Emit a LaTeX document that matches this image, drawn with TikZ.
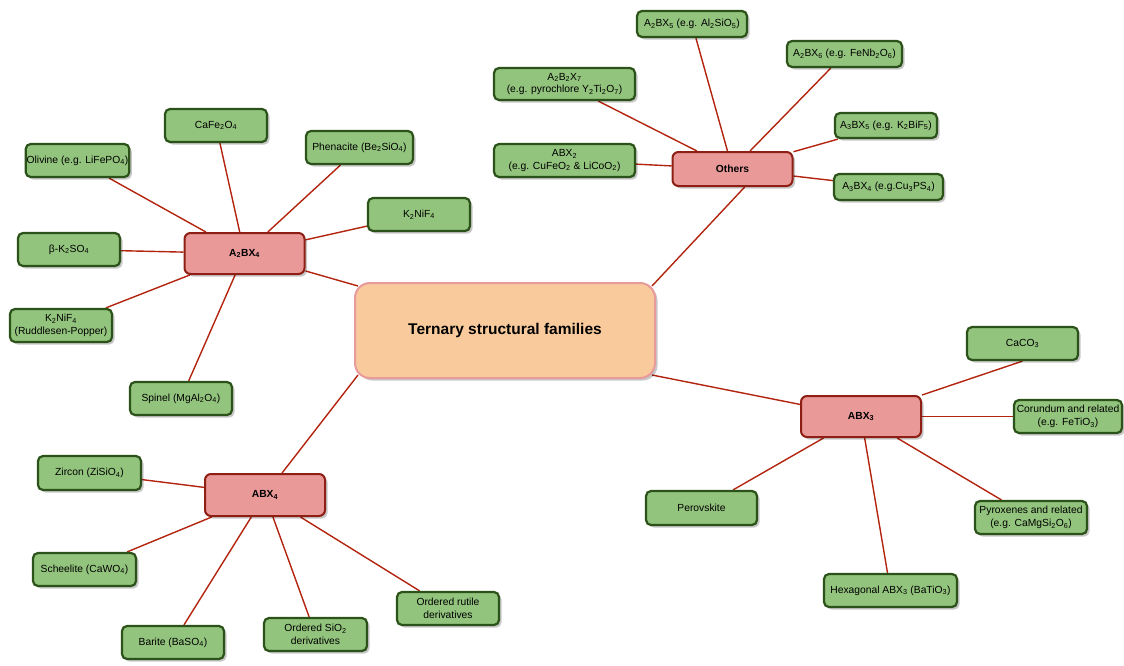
\documentclass[tikz,border=0pt]{standalone}
\usepackage{fontspec}
\setmainfont{Liberation Sans}
\usetikzlibrary{calc,shadows}
\newcommand{\sbs}[1]{\textsubscript{#1}}
\definecolor{leaffill}{HTML}{93C47D}
\definecolor{leafline}{HTML}{2B5219}
\definecolor{famfill}{HTML}{EA9999}
\definecolor{famline}{HTML}{8E1F14}
\definecolor{rootfill}{HTML}{F9CB9C}
\definecolor{rootline}{HTML}{E99A9A}
\definecolor{linkcol}{HTML}{B2240E}
\pgfdeclarelayer{background}
\pgfsetlayers{background,main}
\tikzset{
  boxshadow/.style={drop shadow={shadow xshift=2.5pt,shadow yshift=-2.5pt,fill=black,opacity=0.22}},
  leaf/.style={draw=leafline,fill=leaffill,line width=2.2pt,rounded corners=5pt,
    boxshadow,align=center,inner sep=1pt,
    font=\fontsize{10.3}{12.8}\selectfont},
  family/.style={draw=famline,fill=famfill,line width=2pt,rounded corners=6pt,
    boxshadow,align=center,minimum width=120pt,minimum height=41pt,
    font=\fontsize{10.3}{12.8}\selectfont\bfseries},
  root/.style={draw=rootline,fill=rootfill,line width=2pt,rounded corners=15pt,
    boxshadow,align=center,minimum width=300pt,minimum height=95pt,
    font=\fontsize{15.5}{18}\selectfont\bfseries},
  link/.style={draw=linkcol,line width=1.4pt},
}
\begin{document}
\begin{tikzpicture}[x=1pt,y=-1pt]
\useasboundingbox (0,0) rectangle (1124,665);

% root and family nodes
\node[root] (ctr) at (505,330.5) {Ternary structural families};
\node[family] (a2bx4) at (244.5,253.5) {A\sbs{2}BX\sbs{4}};
\node[family,minimum height=34pt] (oth) at (732.5,169) {Others};
\node[family] (abx3) at (861,416.5) {ABX\sbs{3}};
\node[family,minimum height=42pt] (abx4) at (265,495) {ABX\sbs{4}};

% A2BX4 leaves
\node[leaf,minimum width=102pt,minimum height=33pt] (caf) at (216,125.5) {CaFe\sbs{2}O\sbs{4}};
\node[leaf,minimum width=103pt,minimum height=33pt] (oli) at (77.5,160.5) {Olivine (e.g. LiFePO\sbs{4})};
\node[leaf,minimum width=107pt,minimum height=33pt] (phe) at (359.5,147.5) {Phenacite (Be\sbs{2}SiO\sbs{4})};
\node[leaf,minimum width=102pt,minimum height=33pt] (k2n) at (419,214.5) {K\sbs{2}NiF\sbs{4}};
\node[leaf,minimum width=102pt,minimum height=33pt] (bks) at (69,249.5) {β-K\sbs{2}SO\sbs{4}};
\node[leaf,minimum width=102pt,minimum height=33pt] (rp) at (61,325.5) {K\sbs{2}NiF\sbs{4}\\(Ruddlesen-Popper)};
\node[leaf,minimum width=102pt,minimum height=33pt] (spi) at (181,398.5) {Spinel (MgAl\sbs{2}O\sbs{4})};

% ABX4 leaves
\node[leaf,minimum width=103pt,minimum height=34pt] (zir) at (89.5,473) {Zircon (ZiSiO\sbs{4})};
\node[leaf,minimum width=103pt,minimum height=33pt] (sch) at (84.5,569.5) {Scheelite (CaWO\sbs{4})};
\node[leaf,minimum width=102pt,minimum height=33pt] (bar) at (173,642.5) {Barite (BaSO\sbs{4})};
\node[leaf,minimum width=103pt,minimum height=33pt] (sio) at (315.5,634.5) {Ordered SiO\sbs{2}\\derivatives};
\node[leaf,minimum width=102pt,minimum height=33pt] (rut) at (448,608.5) {Ordered rutile\\derivatives};

% ABX3 leaves
\node[leaf,minimum width=111pt,minimum height=33pt] (caco) at (1022.5,343.5) {CaCO\sbs{3}};
\node[leaf,minimum width=108pt,minimum height=33pt] (cor) at (1068,416.5) {Corundum and related\\(e.g. FeTiO\sbs{3})};
\node[leaf,minimum width=112pt,minimum height=33pt] (pyr) at (1031,517.5) {Pyroxenes and related\\(e.g. CaMgSi\sbs{2}O\sbs{6})};
\node[leaf,minimum width=111pt,minimum height=34pt] (per) at (701.5,508) {Perovskite};
\node[leaf,minimum width=133pt,minimum height=33pt] (hex) at (890.5,590.5) {Hexagonal ABX\sbs{3} (BaTiO\sbs{3})};

% Other families
\node[leaf,minimum width=110pt,minimum height=26pt] (a2b5) at (692,24) {A\sbs{2}BX\sbs{5} (e.g. Al\sbs{2}SiO\sbs{5})};
\node[leaf,minimum width=115pt,minimum height=26pt] (a2b6) at (844.5,54) {A\sbs{2}BX\sbs{6} (e.g. FeNb\sbs{2}O\sbs{6})};
\node[leaf,minimum width=141pt,minimum height=32pt] (a2b2) at (564.5,84) {A\sbs{2}B\sbs{2}X\sbs{7}\\(e.g. pyrochlore Y\sbs{2}Ti\sbs{2}O\sbs{7})};
\node[leaf,minimum width=102pt,minimum height=25pt] (a3b5) at (886,125.5) {A\sbs{3}BX\sbs{5} (e.g. K\sbs{2}BiF\sbs{5})};
\node[leaf,minimum width=141pt,minimum height=33pt] (abx2) at (564.5,160.5) {ABX\sbs{2}\\(e.g. CuFeO\sbs{2} \& LiCoO\sbs{2})};
\node[leaf,minimum width=109pt,minimum height=26pt] (a3b4) at (888.5,187) {A\sbs{3}BX\sbs{4} (e.g.Cu\sbs{3}PS\sbs{4})};

\begin{pgfonlayer}{background}
  % root to families
  \draw[link] (a2bx4) -- ($(ctr.north west)+(4,4)$);
  \draw[link] (abx4) -- ($(ctr.south west)+(4,-4)$);
  \draw[link] (abx3) -- ($(ctr.south east)+(-4,-4)$);
  \draw[link] ($(oth.south west)!0.6!(oth.south east)$) -- ($(ctr.north east)+(-4,4)$);
  % A2BX4
  \foreach \n in {caf,oli,phe,k2n,bks,rp,spi} \draw[link] (a2bx4) -- (\n);
  % ABX4
  \foreach \n in {zir,sch,bar,sio,rut} \draw[link] (abx4) -- (\n);
  % ABX3
  \draw[link] (caco.south) -- (abx3.north east);
  \foreach \n in {cor,pyr,per,hex} \draw[link] (abx3) -- (\n);
  % others
  \foreach \n in {a2b5,a2b6,a2b2,a3b5,abx2,a3b4} \draw[link] (oth) -- (\n);
\end{pgfonlayer}
\end{tikzpicture}
\end{document}
